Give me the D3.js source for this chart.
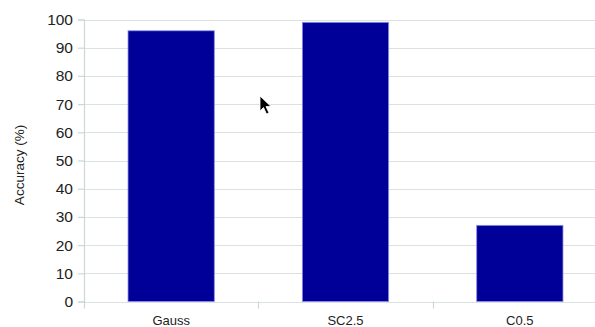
<!DOCTYPE html>
<html>
<head>
<meta charset="utf-8">
<script src="https://cdn.jsdelivr.net/npm/d3@7"></script>
<style>
  html, body { margin: 0; padding: 0; background: #fff; }
  svg { display: block; font-family: "Liberation Sans", Arial, sans-serif; }
</style>
</head>
<body>
<svg id="chart" width="595" height="327"></svg>
<script>
// Classification accuracy per method
const categories = ["Gauss", "SC2.5", "C0.5"];
const accuracy = [96, 99, 27];
const yTicks = [0, 10, 20, 30, 40, 50, 60, 70, 80, 90, 100];
const yLabel = "Accuracy (%)";

const svg = d3.select("#chart");
const plotLeft = 84, plotRight = 607, plotTop = 19.5, plotBottom = 301.5;

const x = d3.scaleBand().domain(categories).range([plotLeft, plotRight]).paddingInner(0).paddingOuter(0);
const y = d3.scaleLinear().domain([0, 100]).range([plotBottom, plotTop]);

const gridColor = "#dbe2e2";
const axisColor = "#cdd6d6";

// horizontal gridlines
svg.append("g").selectAll("line").data(yTicks).join("line")
  .attr("x1", plotLeft).attr("x2", plotRight)
  .attr("y1", d => Math.round(y(d)) + 0.5).attr("y2", d => Math.round(y(d)) + 0.5)
  .attr("stroke", gridColor).attr("stroke-width", 1.2);

// y axis
const yAxis = svg.append("g")
  .attr("transform", `translate(${plotLeft},0)`)
  .call(d3.axisLeft(y).tickValues(yTicks).tickSize(6).tickPadding(5));
yAxis.select(".domain").attr("stroke", axisColor).attr("stroke-width", 1.2);
yAxis.selectAll(".tick line").attr("stroke", axisColor).attr("stroke-width", 1.2);
yAxis.selectAll(".tick text").attr("font-size", 15.5).attr("fill", "#222")
  .attr("font-family", "Liberation Sans, Arial, sans-serif");

// x axis: ticks at category boundaries
const boundaries = categories.map(c => x(c));
svg.append("g").selectAll("line").data(boundaries).join("line")
  .attr("x1", d => Math.round(d) + 0.5).attr("x2", d => Math.round(d) + 0.5)
  .attr("y1", plotBottom).attr("y2", plotBottom + 7)
  .attr("stroke", axisColor).attr("stroke-width", 1.2);

// bars
const bw = x.bandwidth() * 0.495;
svg.append("g").selectAll("rect").data(categories).join("rect")
  .attr("x", d => x(d) + (x.bandwidth() - bw) / 2)
  .attr("width", bw)
  .attr("y", (d, i) => y(accuracy[i]))
  .attr("height", (d, i) => y(0) - y(accuracy[i]))
  .attr("fill", "#000099")
  .attr("stroke", "#8c8ce6").attr("stroke-width", 0.8);

// category labels
svg.append("g").selectAll("text").data(categories).join("text")
  .attr("x", d => x(d) + x.bandwidth() / 2)
  .attr("y", 324.5)
  .attr("text-anchor", "middle")
  .attr("font-size", 13)
  .attr("fill", "#222")
  .text(d => d);

// y axis title
svg.append("text")
  .attr("transform", `translate(24,165) rotate(-90)`)
  .attr("text-anchor", "middle")
  .attr("font-size", 13.5)
  .attr("fill", "#222")
  .text(yLabel);

// mouse pointer
svg.append("path")
  .attr("transform", "translate(260,96)")
  .attr("d", "M0,0 L0,15 L3.5,11.5 L6.5,18 L9,17 L6,10.5 L11,10.5 Z")
  .attr("fill", "#000").attr("stroke", "#fff").attr("stroke-width", 0.8);
</script>
</body>
</html>
